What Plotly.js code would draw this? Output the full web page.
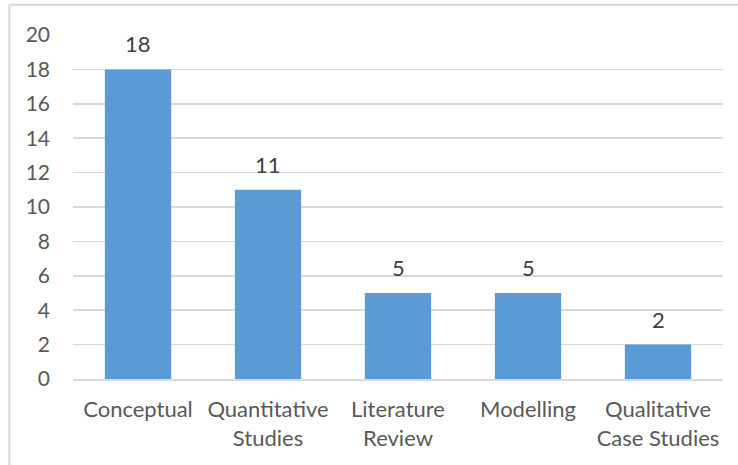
<!DOCTYPE html>
<html>
<head>
<meta charset="utf-8">
<script src="https://cdn.plot.ly/plotly-3.0.1.min.js"></script>
<style>
html,body{margin:0;padding:0;background:#fff;}
#chart{width:738px;height:465px;}
</style>
</head>
<body>
<div id="chart"></div>
<script>
const categories = ["Conceptual", "Quantitative<br>Studies", "Literature<br>Review", "Modelling", "Qualitative<br>Case Studies"];
const counts = [18, 11, 5, 5, 2];
const yTicks = [0, 2, 4, 6, 8, 10, 12, 14, 16, 18, 20];

const font = "Lato, 'Open Sans', sans-serif";

const trace = {
  type: "bar",
  x: categories,
  y: counts,
  marker: {color: "#5b9bd5", line: {width: 0}},
  hoverinfo: "x+y"
};

const labels = categories.map((c, i) => ({
  x: c,
  y: counts[i],
  xref: "x",
  yref: "y",
  text: String(counts[i]),
  showarrow: false,
  yanchor: "bottom",
  yshift: 10,
  font: {family: font, size: 22, color: "#404040"}
}));

const layout = {
  width: 738,
  height: 465,
  margin: {l: 73, r: 15, t: 35, b: 86},
  paper_bgcolor: "#ffffff",
  plot_bgcolor: "#ffffff",
  bargap: 0.49,
  showlegend: false,
  font: {family: font, size: 21, color: "#595959"},
  annotations: labels,
  xaxis: {
    type: "category",
    showgrid: false,
    showline: true,
    linecolor: "#d9d9d9",
    linewidth: 2,
    ticks: "",
    tickfont: {family: font, size: 22, color: "#595959"},
    ticklabelstandoff: 10,
    fixedrange: true
  },
  yaxis: {
    range: [0, 20],
    tickvals: yTicks,
    ticktext: yTicks.map(String),
    showgrid: true,
    gridcolor: "#d9d9d9",
    gridwidth: 1.5,
    zeroline: false,
    showline: false,
    ticks: "",
    ticklabelstandoff: 22,
    tickfont: {family: font, size: 21, color: "#595959"},
    fixedrange: true
  },
  shapes: [
    {type: "line", xref: "paper", yref: "paper", x0: -0.098, x1: 1.05, y0: 1.088, y1: 1.088, line: {color: "#d9d9d9", width: 2}},
    {type: "line", xref: "paper", yref: "paper", x0: -0.098, x1: -0.098, y0: 1.088, y1: -0.3, line: {color: "#d9d9d9", width: 2}}
  ]
};

Plotly.newPlot("chart", [trace], layout, {displayModeBar: false, staticPlot: true});
</script>
</body>
</html>
